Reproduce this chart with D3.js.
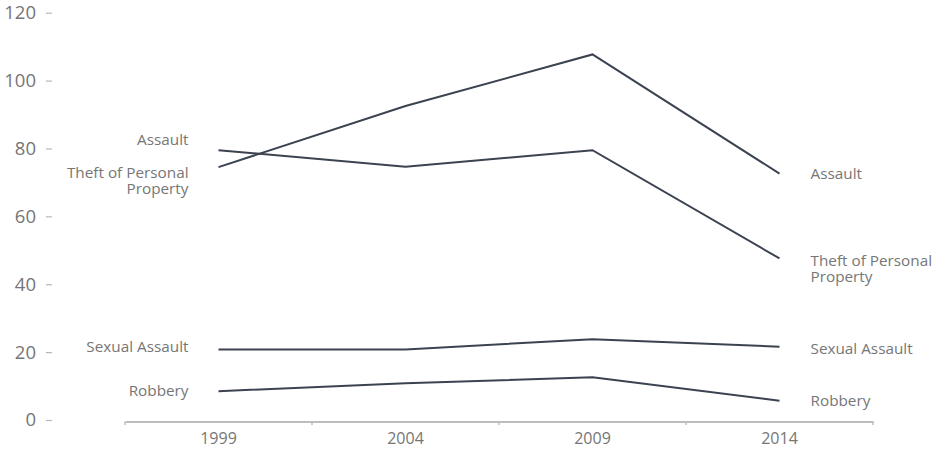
<!DOCTYPE html>
<html><head><meta charset="utf-8">
<script src="https://cdn.jsdelivr.net/npm/d3@7"></script>
<style>body{margin:0;background:#fff}svg{display:block}</style>
</head><body>
<svg id="c" width="943" height="459"></svg>
<script>
const years = ["1999","2004","2009","2014"];
const yTicks = [0,20,40,60,80,100,120];
const seriesNames = ["Assault","Theft of Personal Property","Sexual Assault","Robbery"];
const assault = [74.5, 92.5, 107.7, 72.6];
const theft = [79.5, 74.6, 79.5, 47.6];
const sexualAssault = [20.8, 20.8, 23.8, 21.6];
const robbery = [8.5, 10.8, 12.6, 5.7];
const seriesValues = [assault, theft, sexualAssault, robbery];

const svg = d3.select("#c");
const x = d3.scaleBand().domain(years).range([125, 873]);
const y = d3.scaleLinear().domain([0,120]).range([420, 12.7]);
const font = "'Open Sans', 'Noto Sans', sans-serif";
const grey = "#767676";
const lineCol = "#3b4350";

// y axis labels + dash ticks
const yg = svg.append("g");
yTicks.forEach(t => {
  yg.append("text").attr("x", 36).attr("y", y(t)).attr("dy","0.35em")
    .attr("text-anchor","end").attr("font-family",font).attr("font-size",18.5)
    .attr("fill",grey).text(t);
  yg.append("line").attr("x1",46).attr("x2",52).attr("y1",y(t)+0.5).attr("y2",y(t)+0.5)
    .attr("stroke","#b8b8b8").attr("stroke-width",1.2);
});

// x axis
const xa = svg.append("g").attr("transform","translate(0,421.5)")
  .call(d3.axisBottom(x).tickSize(0).tickPadding(11));
xa.select(".domain").attr("stroke","#bdbdbd").attr("stroke-width",2);
xa.selectAll("text").attr("font-family",font).attr("font-size",16).attr("fill",grey);
const bounds = years.map(d => x(d)).concat([x.range()[1]]);
bounds.forEach(b => svg.append("line").attr("x1",b).attr("x2",b).attr("y1",421.5).attr("y2",425)
  .attr("stroke","#bdbdbd").attr("stroke-width",1.5));

// lines
const line = d3.line().x((d,i) => x(years[i]) + x.bandwidth()/2).y(d => y(d));
seriesValues.forEach(vals => {
  svg.append("path").attr("d", line(vals)).attr("fill","none")
    .attr("stroke",lineCol).attr("stroke-width",2).attr("stroke-linejoin","miter");
});

// labels
const leftNudge = [-27, 30, -3, -1];
const rightNudge = [0, 2, 2, 0];
function addLabel(name, xPos, yPos, anchor, lines) {
  const t = svg.append("text").attr("x",xPos).attr("text-anchor",anchor)
    .attr("font-family",font).attr("font-size",15.3).attr("fill",grey);
  lines.forEach((l,i) => t.append("tspan").attr("x",xPos).attr("y", yPos + i*16).attr("dy","0.35em").text(l));
}
function splitName(n){ return n === "Theft of Personal Property" ? ["Theft of Personal","Property"] : [n]; }
seriesNames.forEach((n,i) => {
  const v = seriesValues[i];
  const lines = splitName(n);
  const lx = x(years[0]) + x.bandwidth()/2 - 30;
  addLabel(n, lx, y(v[0]) + leftNudge[i] - (lines.length-1)*8, "end", lines);
  const rx = x(years[3]) + x.bandwidth()/2 + 31;
  addLabel(n, rx, y(v[3]) + rightNudge[i], "start", lines);
});
</script>
</body></html>
